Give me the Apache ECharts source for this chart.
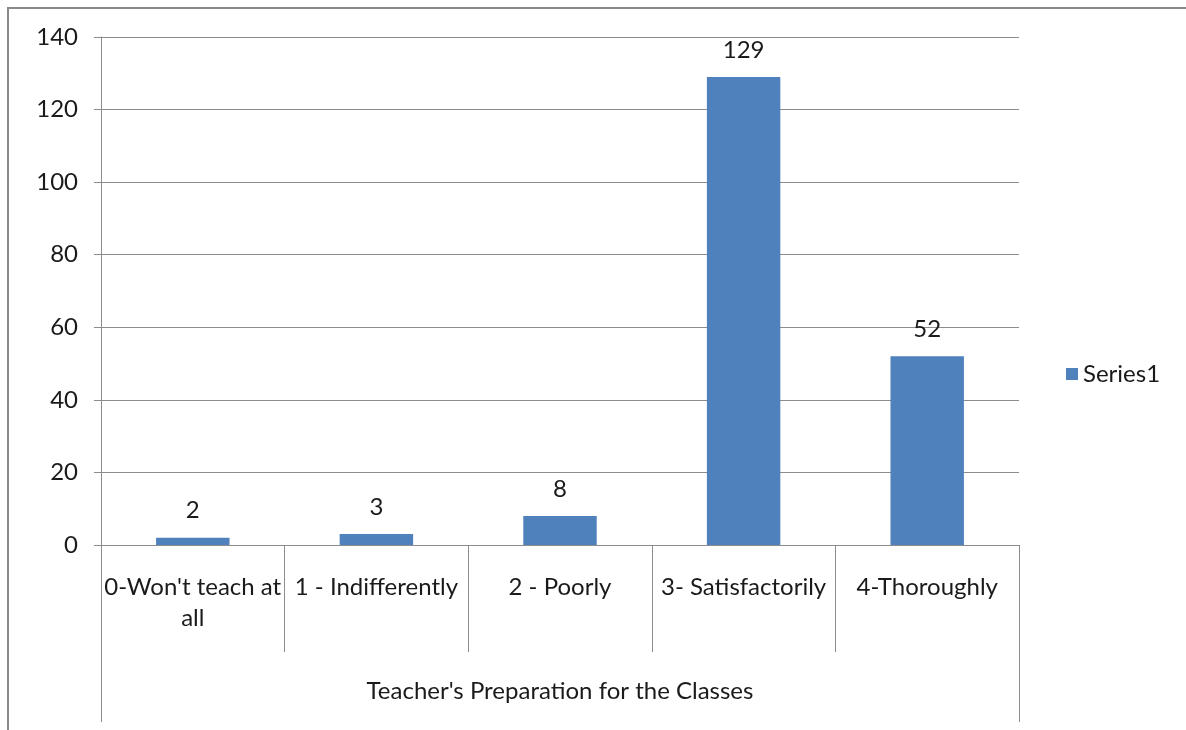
<!DOCTYPE html>
<html>
<head>
<meta charset="utf-8">
<script src="https://cdn.jsdelivr.net/npm/echarts@6/dist/echarts.min.js"></script>
<style>
html,body{margin:0;padding:0;background:#fff;overflow:hidden;width:1186px;height:730px;}
#chart{position:absolute;left:0;top:0;width:1186px;height:730px;}
#frame{position:absolute;left:7px;top:7px;width:1179px;height:723px;box-sizing:border-box;border-left:2px solid #8a8a8a;border-top:2px solid #8a8a8a;pointer-events:none;}
</style>
</head>
<body>
<div id="chart"></div>
<div id="frame"></div>
<script>
const categories = ["0-Won't teach at\nall", "1 - Indifferently", "2 - Poorly", "3- Satisfactorily", "4-Thoroughly"];
const groupLabel = ["Teacher's Preparation for the Classes"];
const seriesName = "Series1";
const values = [2, 3, 8, 129, 52];
const yTicks = {min: 0, max: 140, interval: 20};

const FONT = 'Lato';
const FS = 24;
const TXT = '#1a1a1a';
const LINE = '#8c8c8c';

const chart = echarts.init(document.getElementById('chart'), null, {renderer: 'canvas'});
chart.setOption({
  animation: false,
  textStyle: {fontFamily: FONT},
  grid: {left: 101, right: 167, top: 37, bottom: 185, containLabel: false},
  legend: {
    data: [seriesName], left: 1061, top: 357, icon: 'rect', itemWidth: 12, itemHeight: 12, itemGap: 10,
    textStyle: {fontFamily: FONT, fontSize: FS, color: TXT}
  },
  xAxis: [
    {
      type: 'category', data: categories, position: 'bottom',
      axisLine: {show: true, lineStyle: {color: LINE, width: 1}},
      axisTick: {show: true, length: 107, lineStyle: {color: LINE, width: 1}},
      axisLabel: {fontFamily: FONT, fontSize: FS, color: TXT, margin: 27, lineHeight: 31, interval: 0},
      splitLine: {show: false}
    },
    {
      type: 'category', data: groupLabel, position: 'bottom', offset: 0,
      axisLine: {show: false},
      axisTick: {show: true, length: 177, lineStyle: {color: LINE, width: 1}},
      axisLabel: {fontFamily: FONT, fontSize: FS, color: TXT, margin: 131, lineHeight: 31}
    }
  ],
  yAxis: {
    type: 'value', min: yTicks.min, max: yTicks.max, interval: yTicks.interval,
    axisLine: {show: true, lineStyle: {color: LINE, width: 1}},
    axisTick: {show: true, length: 7, lineStyle: {color: LINE}},
    axisLabel: {fontFamily: FONT, fontSize: FS, color: TXT, margin: 23},
    splitLine: {show: true, lineStyle: {color: LINE, width: 1}}
  },
  series: [{
    name: seriesName, type: 'bar', xAxisIndex: 0, data: values, barWidth: '40%',
    itemStyle: {color: '#4F81BD'},
    label: {show: true, position: 'top', distance: 15, fontFamily: FONT, fontSize: FS, color: TXT}
  }]
});
</script>
</body>
</html>
